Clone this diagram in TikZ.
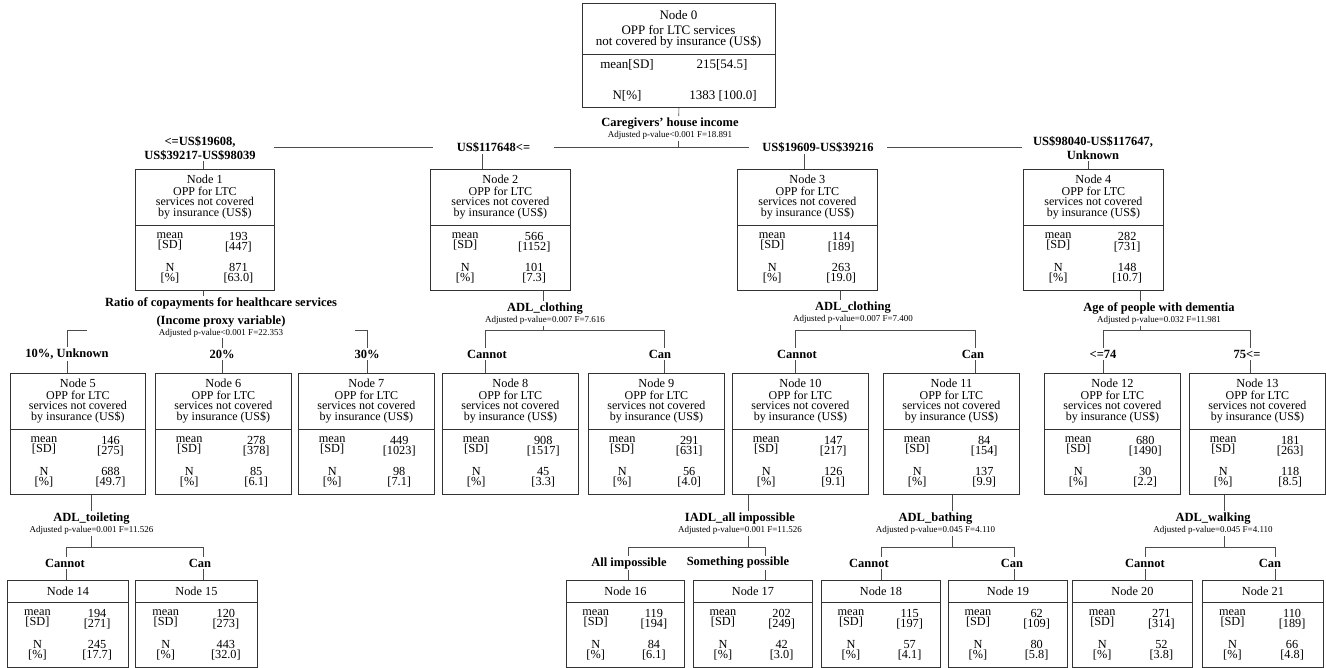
\documentclass[tikz,border=0pt]{standalone}
\usepackage{fontspec}
\setmainfont{Liberation Serif}
\usepackage{tikz}
\usetikzlibrary{calc}
\tikzset{
  box/.style={draw=black!80,line width=0.8pt,inner sep=0pt},
  link/.style={draw=black!70,line width=0.7pt},
  ttl/.style={inner sep=0pt,font=\fontsize{12.3}{10}\selectfont},
  desc/.style={inner sep=0pt,align=center,font=\fontsize{12}{10.4}\selectfont},
  val/.style={inner sep=0pt,align=center,font=\fontsize{12.3}{10}\selectfont},
  split/.style={fill=white,inner sep=1.5pt,align=center,font=\bfseries\fontsize{12.5}{11}\selectfont},
  cat/.style={fill=white,inner sep=1.5pt,align=center,font=\bfseries\fontsize{12.5}{14}\selectfont}
}
\newcommand{\adj}[1]{{\mdseries\fontsize{9}{11}\selectfont Adjusted p-value#1}}
% box of a tree node: name, left, right, top, divider, bottom
\newcommand{\oppbox}[6]{%
  \pgfmathsetmacro{\boxw}{#3-#2}%
  \pgfmathsetmacro{\boxh}{#6-#4}%
  \node (#1) [box,anchor=north west,minimum width=\boxw,minimum height=\boxh] at (#2,#4) {};
  \draw[box] (#2,#5) -- (#3,#5);
}
% mean [SD] and N [%] rows: name, mean, sd, n, pct
\newcommand{\oppstats}[5]{%
  \node (#1-lm) [val,yshift=49pt] at ($(#1.south west)!0.25!(#1.south east)$) {mean\\{[SD]}};
  \node (#1-vm) [val,yshift=49pt] at ($(#1.south west)!0.74!(#1.south east)$) {#2\\{[#3]}};
  \node (#1-ln) [val,yshift=17.5pt] at ($(#1.south west)!0.25!(#1.south east)$) {N\\{[\%]}};
  \node (#1-vn) [val,yshift=17.5pt] at ($(#1.south west)!0.74!(#1.south east)$) {#4\\{[#5]}};
}

\begin{document}
\begin{tikzpicture}[x=1pt,y=-1pt]
\useasboundingbox (0,0) rectangle (1326,668);
\fill[white] (0,0) rectangle (1326,668);
% root
\oppbox{n0}{582}{775}{3.5}{54}{107}
\node (n0-t) [ttl,font=\fontsize{13}{10}\selectfont] at (678.5,15) {Node 0};
\node (n0-d) [desc,font=\fontsize{13}{10.5}\selectfont] at (678.5,37) {OPP for LTC services\\not covered by insurance (US\$)};
\node (n0-lm) [val,font=\fontsize{13}{10}\selectfont] at (627,65) {mean[SD]};
\node (n0-vm) [val,font=\fontsize{13}{10}\selectfont] at (722,65) {215[54.5]};
\node (n0-ln) [val,font=\fontsize{13}{10}\selectfont] at (627,96) {N[\%]};
\node (n0-vn) [val,font=\fontsize{13}{10}\selectfont] at (723,96) {1383 [100.0]};
%
\foreach \id/\xl/\xr/\yt/\vm/\vs/\vn/\vp in {
  1/135/274/169/193/447/871/63.0,
  2/430/570/169/566/1152/101/7.3,
  3/737/877/169/114/189/263/19.0,
  4/1023/1163/169/282/731/148/10.7,
  5/10/145/373/146/275/688/49.7,
  6/155/291/373/278/378/85/6.1,
  7/298/434/373/449/1023/98/7.1,
  8/442/578/373/908/1517/45/3.3,
  9/588/724/373/291/631/56/4.0,
  10/732/868/373/147/217/126/9.1,
  11/883/1019/373/84/154/137/9.9,
  12/1044/1180/373/680/1490/30/2.2,
  13/1189/1325/373/181/263/118/8.5}{
  \oppbox{n\id}{\xl}{\xr}{\yt}{\yt+56}{\yt+121}
  \node (n\id-t) [ttl,yshift=-10.5pt] at (n\id.north) {Node \id};
  \node (n\id-d) [desc,yshift=-34pt] at (n\id.north) {OPP for LTC\\services not covered\\by insurance (US\$)};
  \oppstats{n\id}{\vm}{\vs}{\vn}{\vp}
}
%
\foreach \id/\xl/\xr/\vm/\vs/\vn/\vp in {
  14/7/128/194/271/245/17.7,
  15/135/257/120/273/443/32.0,
  16/566/684/119/194/84/6.1,
  17/693/812/202/249/42/3.0,
  18/821/940/115/197/57/4.1,
  19/948/1067/62/109/80/5.8,
  20/1072/1192/271/314/52/3.8,
  21/1202/1323/110/189/66/4.8}{
  \oppbox{n\id}{\xl}{\xr}{580}{602}{667}
  \node (n\id-t) [ttl,yshift=-11pt] at (n\id.north) {Node \id};
  \oppstats{n\id}{\vm}{\vs}{\vn}{\vp}
}
% income split
\coordinate (t0) at (678.5,147.5);
\draw[link] (n0.south) -- (t0);
\foreach \ch/\x in {1/203,2/482,3/804,4/1088}
  \draw[link] (\x,147.5) coordinate (t\ch) -- (t\ch |- n\ch.north);
\draw[link] (t1) -- (t4);
% stems down to the brackets
\foreach \pa/\x/\y in {1/203/330,2/543/330,3/840/330,4/1140/330,5/91/547,10/748/547,11/952/547,13/1224/547}
  \draw[link] (\x,\y) coordinate (j\pa) -- (j\pa |- n\pa.south);
% drops to the child boxes
\foreach \ch/\x/\y in {5/67/330,6/222/330,7/367/330,8/485/330,9/664/330,10/795/330,11/975/330,12/1103/330,13/1250/330,
  14/66/547,15/203/547,16/628/547,17/765/547,18/881/547,19/1014/547,20/1145/547,21/1275/547}
  \draw[link] (\x,\y) coordinate (t\ch) -- (t\ch |- n\ch.north);
\path[link]
(t5) edge (t7)
(t8) edge (t9)
(t10) edge (t11)
(t12) edge (t13)
(t14) edge (t15)
(t16) edge (t17)
(t18) edge (t19)
(t20) edge (t21)
;
% split variables
\node (s0) [split] at (670,128.4) {Caregivers' house income\\\adj{<0.001 F=18.891}};
\node (s1) [split,minimum width=268pt] at (221,317.4) {Ratio of copayments for healthcare services\\[5pt](Income proxy variable)\\\adj{<0.001 F=22.353}};
\node (s2) [split] at (545,313.7) {ADL\_clothing\\\adj{=0.007 F=7.616}};
\node (s3) [split] at (853,312.7) {ADL\_clothing\\\adj{=0.007 F=7.400}};
\node (s4) [split] at (1159,313.7) {Age of people with dementia\\\adj{=0.032 F=11.981}};
\node (s5) [split] at (91.5,523.4) {ADL\_toileting\\\adj{=0.001 F=11.526}};
\node (s10) [split] at (740,523.4) {IADL\_all impossible\\\adj{=0.001 F=11.526}};
\node (s11) [split] at (935.5,523.4) {ADL\_bathing\\\adj{=0.045 F=4.110}};
\node (s13) [split] at (1213,523.4) {ADL\_walking\\\adj{=0.045 F=4.110}};
% categories
\node (c1) [cat,minimum width=148pt] at (200,148) {<=US\$19608,\\US\$39217-US\$98039};
\node (c2) [cat,minimum width=121pt] at (493.5,147.5) {US\$117648<=};
\node (c3) [cat,minimum width=138pt] at (818,147.5) {US\$19609-US\$39216};
\node (c4) [cat,minimum width=142pt] at (1093,148) {US\$98040-US\$117647,\\Unknown};
\foreach \nm/\x/\txt in {c5/67/{10\%, Unknown},c6/222/20\%,c7/367/30\%,c8/487/Cannot,c9/660/Can,
  c10/797/Cannot,c11/973/Can,c12/1103/{<=74},c13/1247/{75<=}}
  \node (\nm) [cat] at (\x,354) {\txt};
\foreach \nm/\x/\txt in {c14/65/Cannot,c15/200/Can,c16/629/{All impossible},c17/738/{Something possible},
  c18/869/Cannot,c19/1012/Can,c20/1145/Cannot,c21/1270/Can}
  \node (\nm) [cat] at (\x,563) {\txt};
\end{tikzpicture}
\end{document}
